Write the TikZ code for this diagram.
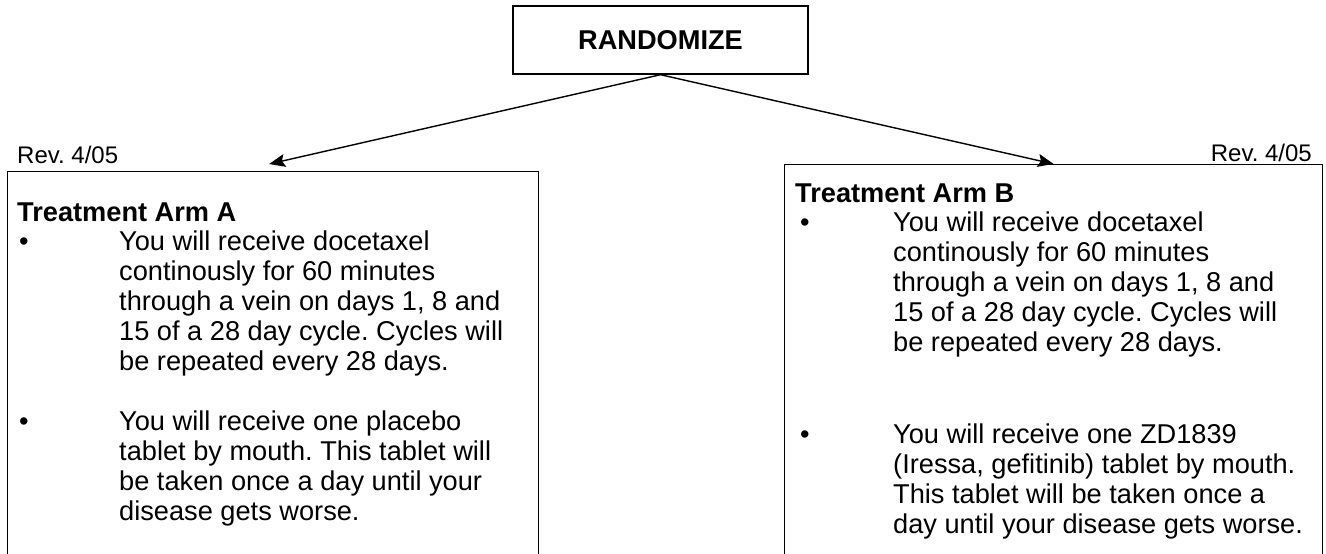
\documentclass[tikz,border=0pt]{standalone}
\usepackage{fontspec}
\setmainfont{Liberation Sans}
\usetikzlibrary{arrows.meta,positioning}
\frenchspacing

\begin{document}
\begin{tikzpicture}[x=1pt, y=-1pt,
    box/.style={draw=black, line width=1.4pt, inner sep=0pt},
    arm/.style={box, minimum width=531pt, minimum height=420pt, anchor=north west},
    head/.style={font=\bfseries\fontsize{27.2}{30}\selectfont, inner sep=0pt},
    body/.style={font=\fontsize{27.2}{30}\selectfont, align=left, inner sep=0pt,
                 anchor=north west},
    bul/.style={font=\fontsize{27.2}{30}\selectfont, inner sep=0pt,
                text height=19.5pt, anchor=north west},
    rev/.style={font=\fontsize{24}{27}\selectfont, inner sep=0pt},
    link/.style={line width=1.4pt, -{Stealth[length=16pt,width=13pt,inset=3pt]}}]
  \useasboundingbox (0,0) rectangle (1326,554);
  \clip (0,0) rectangle (1326,554);

  % ---------- randomize ------------------------------------------------------
  \node[box, head, minimum width=295pt, minimum height=68pt] (rand) at (660.5,40) {RANDOMIZE};

  % ---------- arm A -----------------------------------------------------------
  \node[arm] (armA) at (7,171) {};
  \node[rev, anchor=west] (revA) at (17,155) {Rev. 4/05};
  \node[head, anchor=west] (titA) at (17,212) {Treatment Arm A};
  \node[bul] (bA1) at (19,231) {•};
  \node[body] (txA1) at (119,231)
    {You will receive docetaxel\\continously for 60 minutes\\through a vein on days 1, 8 and\\15 of a 28 day cycle. Cycles will\\be repeated every 28 days.};
  \node[bul] (bA2) at (19,411) {•};
  \node[body] (txA2) at (119,411)
    {You will receive one placebo\\tablet by mouth. This tablet will\\be taken once a day until your\\disease gets worse.};

  % ---------- arm B -----------------------------------------------------------
  \node[arm, minimum width=538pt] (armB) at (784,164) {};
  \node[rev, anchor=east] (revB) at (1312,153) {Rev. 4/05};
  \node[head, anchor=west] (titB) at (795,193) {Treatment Arm B};
  \node[bul] (bB1) at (800,212) {•};
  \node[body] (txB1) at (893,212)
    {You will receive docetaxel\\continously for 60 minutes\\through a vein on days 1, 8 and\\15 of a 28 day cycle. Cycles will\\be repeated every 28 days.};
  \node[bul] (bB2) at (800,424) {•};
  \node[body] (txB2) at (893,424)
    {You will receive one ZD1839\\(Iressa, gefitinib) tablet by mouth.\\This tablet will be taken once a\\day until your disease gets worse.};

  % ---------- arrows ----------------------------------------------------------
  \draw[link] (rand.south) -- ([shift={(-4pt,7pt)}]armA.north);
  \draw[link] (rand.south) -- (armB.north);
\end{tikzpicture}
\end{document}
